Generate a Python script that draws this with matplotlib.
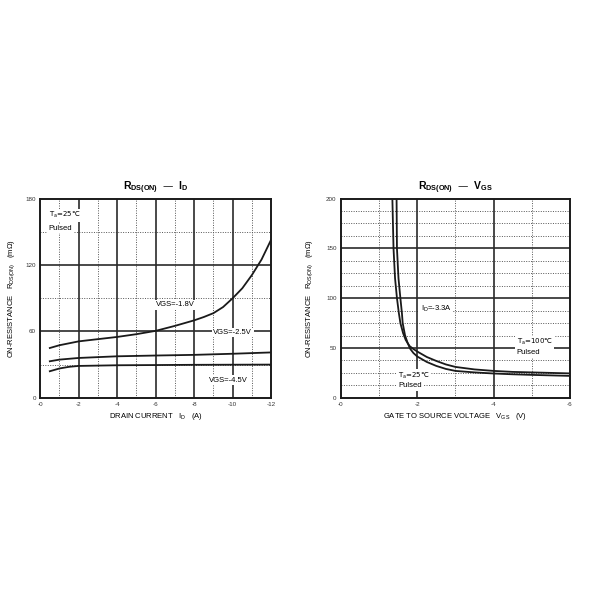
import numpy as np
import matplotlib
matplotlib.use("Agg")
import matplotlib.pyplot as plt

plt.rcParams['font.family'] = ['Liberation Sans', 'DejaVu Sans']
plt.rcParams['mathtext.default'] = 'regular'

# left chart: RDS(ON) vs drain current
id_18 = [0.5, 1, 2, 3, 4, 5, 6, 7, 8, 8.5, 9, 9.5, 10, 10.5, 11, 11.5, 12]
r_18 = [45, 47.5, 51, 53, 55, 57.5, 60.5, 65, 70, 73, 76.5, 82, 90, 99, 111, 125, 143]
id_25 = [0.5, 1, 2, 4, 6, 8, 10, 12]
r_25 = [33, 34.5, 36, 37.5, 38.2, 38.8, 39.8, 41]
id_45 = [0.5, 1, 1.5, 2, 4, 6, 8, 10, 12]
r_45 = [24, 26.5, 28, 28.8, 29.4, 29.6, 29.8, 29.9, 30]

# right chart: RDS(ON) vs gate-source voltage, ID=-3.3A
vgs_100 = [1.35, 1.38, 1.42, 1.47, 1.52, 1.56, 1.63, 1.7, 1.8, 1.9, 2.0, 2.25, 2.5, 2.75, 3.0, 3.5, 4.0, 4.5, 5.0, 5.5, 6.0]
r_100 = [200, 150, 120, 100, 85, 75, 65, 58, 52, 49, 46.5, 41, 37, 33.5, 31, 28.5, 27, 26, 25.5, 25, 24.5]
vgs_25 = [1.46, 1.47, 1.51, 1.56, 1.6, 1.62, 1.68, 1.75, 1.82, 1.9, 2.0, 2.25, 2.5, 2.75, 3.0, 3.5, 4.0, 4.5, 5.0, 5.5, 6.0]
r_25v = [200, 150, 120, 100, 85, 75, 63, 55, 49, 45, 41.5, 36, 32, 29, 27, 25.5, 24.4, 23.6, 23, 22.5, 22]

left_xticks = [0, 2, 4, 6, 8, 10, 12]
left_xlabels = ['-0', '-2', '-4', '-6', '-8', '-10', '-12']
left_yticks = [0, 60, 120, 180]
right_xticks = [0, 2, 4, 6]
right_xlabels = ['-0', '-2', '-4', '-6']
right_yticks = [0, 50, 100, 150, 200]

dark = '#1a1a1a'
box = dict(facecolor='white', edgecolor='none', pad=1)


def style_axes(ax, xmaj, xmin, ymaj, ymin):
    for x in xmin:
        ax.axvline(x, color='#555555', lw=0.7, ls=(0, (1, 1.5)), zorder=1)
    for y in ymin:
        ax.axhline(y, color='#555555', lw=0.7, ls=(0, (1, 1.5)), zorder=1)
    for x in xmaj:
        ax.axvline(x, color='#2a2a2a', lw=1.2, zorder=1)
    for y in ymaj:
        ax.axhline(y, color='#2a2a2a', lw=1.2, zorder=1)
    for s in ax.spines.values():
        s.set_linewidth(1.4)
        s.set_color(dark)
    ax.tick_params(length=0, labelsize=4.5, pad=3, colors='#333333')


def temp_label(ax, x, y, t, z):
    # DejaVu Sans carries the ℃ sign
    ax.text(x, y, 'T$_a$=' + t + '℃', fontsize=5, ha='left', va='center',
            family='DejaVu Sans', bbox=box, zorder=z)


fig = plt.figure(figsize=(6, 6), dpi=100)

# ---- left chart
ax1 = fig.add_axes([0.067, 0.337, 0.385, 0.332])
ax1.set_xlim(0, 12)
ax1.set_ylim(0, 180)
style_axes(ax1, [2, 4, 6, 8, 10], [1, 3, 5, 7, 9, 11], [60, 120], [30, 90, 150])
ax1.set_xticks(left_xticks)
ax1.set_xticklabels(left_xlabels)
ax1.set_yticks(left_yticks)
ax1.plot(id_18, r_18, color=dark, lw=1.3, zorder=3)
ax1.plot(id_25, r_25, color=dark, lw=1.3, zorder=3)
ax1.plot(id_45, r_45, color=dark, lw=1.3, zorder=3)
ax1.text(7.0, 84, 'VGS=-1.8V', fontsize=5.5, ha='center', va='center', bbox=box, zorder=4)
ax1.text(10.0, 59, 'VGS=-2.5V', fontsize=5.5, ha='center', va='center', bbox=box, zorder=4)
ax1.text(9.8, 16, 'VGS=-4.5V', fontsize=5.5, ha='center', va='center', bbox=box, zorder=4)
temp_label(ax1, 0.45, 165, '25', 4)
ax1.text(0.45, 153, 'Pulsed', fontsize=5.5, ha='left', va='center', bbox=box, zorder=4)
ax1.set_title('R$_{DS(ON)}$  —  I$_D$', fontsize=7.5, fontweight='bold', pad=6)
ax1.set_xlabel('DRAIN CURRENT   I$_D$   (A)', fontsize=5.5, labelpad=3)
ax1.set_ylabel('ON-RESISTANCE   R$_{DS(ON)}$   (mΩ)', fontsize=5.5, labelpad=6)

# ---- right chart
ax2 = fig.add_axes([0.568, 0.337, 0.382, 0.332])
ax2.set_xlim(0, 6)
ax2.set_ylim(0, 200)
style_axes(ax2, [2, 4], [1, 3, 5], [50, 100, 150],
           [12.5, 25, 37.5, 62.5, 75, 87.5, 112.5, 125, 137.5, 162.5, 175, 187.5])
ax2.set_xticks(right_xticks)
ax2.set_xticklabels(right_xlabels)
ax2.set_yticks(right_yticks)
ax2.text(2.5, 89, 'I$_D$=-3.3A', fontsize=5.5, ha='center', va='center', bbox=box, zorder=2)
temp_label(ax2, 4.6, 56, '100', 2)
ax2.text(4.6, 45, 'Pulsed', fontsize=5.5, ha='left', va='center', bbox=box, zorder=2)
temp_label(ax2, 1.5, 22, '25', 2)
ax2.text(1.5, 12, 'Pulsed', fontsize=5.5, ha='left', va='center', bbox=box, zorder=2)
ax2.plot(vgs_100, r_100, color=dark, lw=1.3, zorder=3)
ax2.plot(vgs_25, r_25v, color=dark, lw=1.3, zorder=3)
ax2.set_title('R$_{DS(ON)}$  —  V$_{GS}$', fontsize=7.5, fontweight='bold', pad=6)
ax2.set_xlabel('GATE TO SOURCE VOLTAGE   V$_{GS}$   (V)', fontsize=5.5, labelpad=3)
ax2.set_ylabel('ON-RESISTANCE   R$_{DS(ON)}$   (mΩ)', fontsize=5.5, labelpad=8)

fig.savefig('out.png', dpi=100, facecolor='white')
